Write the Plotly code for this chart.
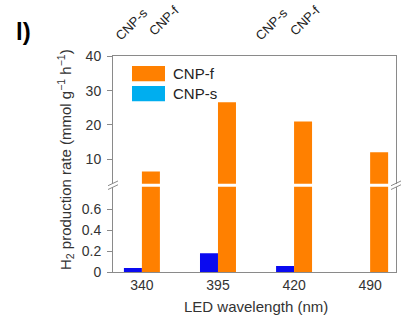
import plotly.graph_objects as go

W, H = 402, 322
categories = ["340", "395", "420", "490"]
cnp_f = [6.4, 26.6, 21.0, 12.0]
cnp_s = [0.04, 0.18, 0.06, 0.0]
upper_ticks = [10, 20, 30, 40]
lower_ticks = [0, 0.2, 0.4, 0.6]
lower_ticklabels = ["0", "0.2", "0.4", "0.6"]

ORANGE = "#FF8000"
BLUE = "#0A0AF0"
CYAN = "#00AEEF"
AX = "#8a8a8a"
TXT = "#333333"
FONT = "Liberation Sans, Arial, sans-serif"

def px(x):
    return x / W

def py(y):
    return 1 - y / H

fig = go.Figure()
# lower subplot (x, y)
fig.add_trace(go.Bar(x=categories, y=cnp_s, marker_color=BLUE, marker_line_width=0,
                     xaxis="x", yaxis="y", showlegend=False, name="CNP-s"))
fig.add_trace(go.Bar(x=categories, y=cnp_f, marker_color=ORANGE, marker_line_width=0,
                     xaxis="x", yaxis="y", showlegend=False, name="CNP-f"))
# upper subplot (x2, y2)
fig.add_trace(go.Bar(x=categories, y=cnp_s, marker_color=BLUE, marker_line_width=0,
                     xaxis="x2", yaxis="y2", showlegend=False, name="CNP-s"))
fig.add_trace(go.Bar(x=categories, y=cnp_f, marker_color=ORANGE, marker_line_width=0,
                     xaxis="x2", yaxis="y2", showlegend=False, name="CNP-f"))

xdom = [px(113), px(396)]
xr = [-0.38, 3.34]
fig.update_layout(
    width=W, height=H, margin=dict(l=0, r=0, t=0, b=0),
    paper_bgcolor="white", plot_bgcolor="white",
    barmode="group", bargap=0.527, bargroupgap=0,
    font=dict(family=FONT, size=14, color=TXT),
    xaxis=dict(domain=xdom, range=xr, type="category", showline=True, linecolor=AX,
               linewidth=1, ticks="", showgrid=False, zeroline=False,
               tickfont=dict(size=14, color=TXT), anchor="y"),
    yaxis=dict(domain=[py(278), py(188)], range=[0, 0.818], showline=True, mirror=True,
               linecolor=AX, linewidth=1, ticks="outside", ticklen=5, tickcolor=AX,
               tickvals=lower_ticks, ticktext=lower_ticklabels, showgrid=False,
               zeroline=False, tickfont=dict(size=14, color=TXT), anchor="x",
               ticklabelstandoff=3),
    xaxis2=dict(domain=xdom, range=xr, type="category", showline=True, side="top",
                linecolor=AX, linewidth=1, ticks="", showticklabels=False, showgrid=False,
                zeroline=False, anchor="y2", matches="x"),
    yaxis2=dict(domain=[py(185), py(51)], range=[2.78, 40], showline=True, mirror=True,
                linecolor=AX, linewidth=1, ticks="outside", ticklen=5, tickcolor=AX,
                tickvals=upper_ticks, showgrid=False, zeroline=False,
                tickfont=dict(size=14, color=TXT), anchor="x2", ticklabelstandoff=3),
)

shapes = []
# break marks
for xc in (113, 396):
    for dy in (-2, 2):
        shapes.append(dict(type="line", xref="paper", yref="paper",
                           x0=px(xc - 5), y0=py(186.5 + dy + 2.5),
                           x1=px(xc + 5), y1=py(186.5 + dy - 2.5),
                           line=dict(color=AX, width=1)))
# legend swatches
shapes.append(dict(type="rect", xref="paper", yref="paper", x0=px(132), x1=px(165),
                   y0=py(77), y1=py(61), fillcolor=ORANGE, line=dict(width=0)))
shapes.append(dict(type="rect", xref="paper", yref="paper", x0=px(132), x1=px(165),
                   y0=py(98), y1=py(82), fillcolor=CYAN, line=dict(width=0)))
fig.update_layout(shapes=shapes)

annotations = [
    dict(text="CNP-f", x=px(171), y=py(69), xanchor="left", yanchor="middle",
         font=dict(size=15, color="#222")),
    dict(text="CNP-s", x=px(171), y=py(90), xanchor="left", yanchor="middle",
         font=dict(size=15, color="#222")),
    dict(text="H<sub>2</sub> production rate (mmol g<sup>−1</sup> h<sup>−1</sup>)",
         x=px(65), y=py(160), textangle=-90, xanchor="center", yanchor="middle",
         font=dict(size=15, color=TXT)),
    dict(text="LED wavelength (nm)", x=px(256), y=py(314), xanchor="center",
         yanchor="middle", font=dict(size=15, color=TXT)),
    dict(text="<b>l)</b>", x=px(23), y=py(25), xanchor="center", yanchor="middle",
         font=dict(size=24, color="black", family="Liberation Sans, Arial")),
]
for label, cx, cy in [("CNP-s", 131, 17), ("CNP-f", 164, 13), ("CNP-s", 271, 17), ("CNP-f", 305, 13)]:
    annotations.append(dict(text=label, x=px(cx), y=py(cy), textangle=-45,
                            xanchor="center", yanchor="middle",
                            font=dict(size=13, color="#222")))
for a in annotations:
    a.update(xref="paper", yref="paper", showarrow=False)
fig.update_layout(annotations=annotations)

fig.write_html("out.html")
